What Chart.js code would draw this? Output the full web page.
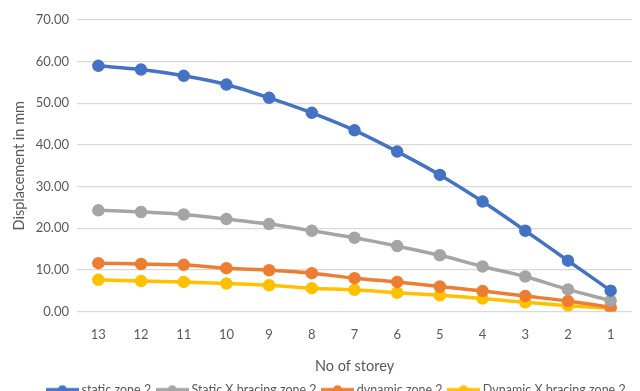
<!DOCTYPE html>
<html>
<head>
<meta charset="utf-8">
<script src="https://cdn.jsdelivr.net/npm/chart.js@4.4.0/dist/chart.umd.min.js"></script>
<style>
  html, body { margin: 0; padding: 0; background: #fff; overflow: hidden; }
  #wrap { position: absolute; left: 0; top: 0; width: 640px; height: 406px; }
</style>
</head>
<body>
<div id="wrap"><canvas id="chart"></canvas></div>
<script>
// storeys, top to bottom
const storeys = ['13', '12', '11', '10', '9', '8', '7', '6', '5', '4', '3', '2', '1'];

const staticZone2 = [59.0, 58.1, 56.6, 54.5, 51.3, 47.7, 43.5, 38.4, 32.8, 26.4, 19.4, 12.2, 5.0];
const staticXBracing = [24.3, 23.9, 23.3, 22.2, 21.0, 19.4, 17.7, 15.7, 13.5, 10.8, 8.4, 5.3, 2.6];
const dynamicZone2 = [11.6, 11.4, 11.2, 10.4, 9.9, 9.2, 8.0, 7.1, 6.0, 4.9, 3.7, 2.5, 1.0];
const dynamicXBracing = [7.6, 7.3, 7.1, 6.7, 6.3, 5.6, 5.2, 4.5, 3.9, 3.1, 2.2, 1.4, 0.8];

const seriesNames = ['static zone 2', 'Static X bracing zone 2', 'dynamic zone 2', 'Dynamic X bracing zone 2'];
const seriesColors = ['#4472C4', '#A5A5A5', '#ED7D31', '#FFC000'];

const textColor = '#595959';
const fontFamily = 'Lato, "Liberation Sans", sans-serif';

// little line+marker swatch for the legend
const legendSwatch = (color) => {
    const c = document.createElement('canvas');
    c.width = 33; c.height = 12;
    const g = c.getContext('2d');
    g.strokeStyle = color;
    g.lineWidth = 3.5;
    g.beginPath(); g.moveTo(0, 6); g.lineTo(33, 6); g.stroke();
    g.fillStyle = color;
    g.beginPath(); g.arc(16.5, 6, 4.5, 0, Math.PI * 2); g.fill();
    return c;
};

const makeSet = (i, data) => ({
    label: seriesNames[i],
    data: data,
    borderColor: seriesColors[i],
    backgroundColor: seriesColors[i],
    borderWidth: 3.5,
    pointRadius: 4.5,
    pointHoverRadius: 4.5,
    tension: 0.3,
    fill: false
});

// legend in the original sits a bit right of centre
const shiftLegend = {
    id: 'shiftLegend',
    afterLayout: (chart) => {
        chart.legend.left += 15;
        chart.legend.right += 15;
    }
};

new Chart(document.getElementById('chart'), {
    type: 'line',
    data: {
        labels: storeys,
        datasets: [
            makeSet(0, staticZone2),
            makeSet(1, staticXBracing),
            makeSet(2, dynamicZone2),
            makeSet(3, dynamicXBracing)
        ]
    },
    plugins: [shiftLegend],
    options: {
        responsive: true,
        maintainAspectRatio: false,
        animation: false,
        layout: { padding: { top: 20, right: 6, left: 11, bottom: 0 } },
        plugins: {
            tooltip: { enabled: false },
            legend: {
                position: 'bottom',
                labels: {
                    color: textColor,
                    font: { family: fontFamily, size: 12.5 },
                    usePointStyle: true,
                    pointStyleWidth: 26,
                    boxHeight: 12,
                    padding: 8,
                    generateLabels: (chart) => {
                        const items = Chart.defaults.plugins.legend.labels.generateLabels(chart);
                        items.forEach((it, i) => { it.pointStyle = legendSwatch(seriesColors[i]); });
                        return items;
                    }
                }
            }
        },
        scales: {
            x: {
                offset: true,
                grid: { display: false },
                border: { display: false },
                ticks: { color: textColor, font: { family: fontFamily, size: 13 }, padding: 8 },
                title: {
                    display: true,
                    text: 'No of storey',
                    color: textColor,
                    font: { family: fontFamily, size: 14.5 },
                    padding: { top: 3, bottom: 0 }
                },
                afterFit: (scale) => { scale.height = 64; }
            },
            y: {
                min: 0,
                max: 70,
                ticks: {
                    stepSize: 10,
                    color: textColor,
                    font: { family: fontFamily, size: 13 },
                    padding: 8,
                    callback: (v) => v.toFixed(2)
                },
                grid: { color: '#D9D9D9', lineWidth: 1.3, drawTicks: false },
                border: { display: false },
                title: {
                    display: true,
                    text: 'Displacement in mm',
                    color: textColor,
                    font: { family: fontFamily, size: 14.5 },
                    padding: { top: 0, bottom: 3 }
                },
                afterFit: (scale) => { scale.width = 66; }
            }
        }
    }
});
</script>
</body>
</html>
